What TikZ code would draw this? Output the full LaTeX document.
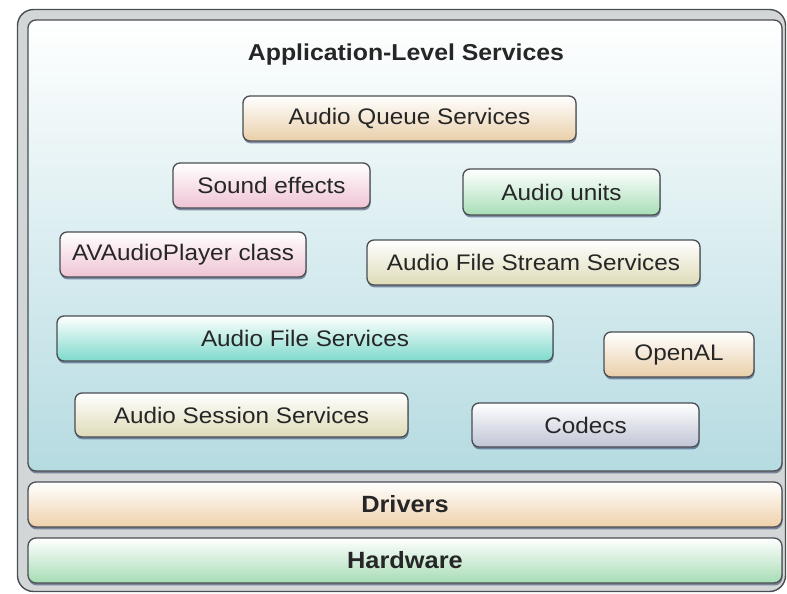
\documentclass[tikz,border=0pt]{standalone}
\usepackage{fontspec}
\setmainfont{Liberation Sans}[FakeStretch=1.08]
\usetikzlibrary{shadows}
\definecolor{edgec}{HTML}{4A4D52}
\definecolor{txtc}{HTML}{262626}
\definecolor{shadowc}{HTML}{2E3D66}
\definecolor{framec}{HTML}{D3D6D6}
\definecolor{panelbot}{HTML}{B5DBE1}
\definecolor{tanbot}{HTML}{E9CFA9}
\definecolor{pinkbot}{HTML}{EFC3D3}
\definecolor{greenbot}{HTML}{A8DEB7}
\definecolor{khakibot}{HTML}{DEDBB7}
\definecolor{tealbot}{HTML}{7ED9CC}
\definecolor{greybot}{HTML}{BFC4D5}
\definecolor{drvbot}{HTML}{EFD1AB}
\definecolor{hwbot}{HTML}{A6DCB4}
\begin{document}
\begin{tikzpicture}[x=1pt,y=-1pt,
  box/.style={draw=edgec, line width=1.3pt, rounded corners=7pt, text=txtc,
    font=\fontsize{22.5}{26}\selectfont, inner sep=0pt,
    drop shadow={shadow xshift=0.6pt, shadow yshift=-2.4pt, fill=shadowc, opacity=0.55}},
  bar/.style={draw=edgec, line width=1.3pt, rounded corners=8pt, text=txtc,
    font=\fontsize{23.5}{27}\selectfont\bfseries, inner sep=0pt,
    minimum width=754pt, minimum height=45pt,
    drop shadow={shadow xshift=0.6pt, shadow yshift=-2.4pt, fill=shadowc, opacity=0.55}},
]
\useasboundingbox (0,0) rectangle (787,594);
% outer frame
\node[draw=edgec, line width=1.4pt, rounded corners=16pt, fill=framec,
  minimum width=768pt, minimum height=582pt, inner sep=0pt] (frame) at (401.5,300.5) {};
% main panel
\node[bar, top color=white, bottom color=panelbot, minimum height=451pt] (app) at (405,245.5) {};
\node[bar, top color=white, bottom color=drvbot] (drv) at (405,504.5) {Drivers};
\node[bar, top color=white, bottom color=hwbot] (hw) at (405,560.5) {Hardware};
\node[text=txtc, font=\fontsize{23}{27}\selectfont\bfseries] (title) at (406,55) {Application-Level Services};
% service boxes
\node[box, top color=white, bottom color=tanbot, minimum width=333pt, minimum height=45pt] (aq) at (409.5,118.5) {Audio Queue Services};
\node[box, top color=white, bottom color=pinkbot, minimum width=197pt, minimum height=45pt] (se) at (271.5,185.5) {Sound effects};
\node[box, top color=white, bottom color=greenbot, minimum width=197pt, minimum height=46pt] (au) at (561.5,192) {Audio units};
\node[box, top color=white, bottom color=pinkbot, minimum width=246pt, minimum height=45pt] (av) at (183,254.5) {AVAudioPlayer class};
\node[box, top color=white, bottom color=khakibot, minimum width=333pt, minimum height=45pt] (afss) at (533.5,262.5) {Audio File Stream Services};
\node[box, top color=white, bottom color=tealbot, minimum width=496pt, minimum height=45pt] (af) at (305,338.5) {Audio File Services};
\node[box, top color=white, bottom color=tanbot, minimum width=150pt, minimum height=45pt] (oal) at (679,354.5) {OpenAL};
\node[box, top color=white, bottom color=khakibot, minimum width=333pt, minimum height=44pt] (as) at (241.5,415) {Audio Session Services};
\node[box, top color=white, bottom color=greybot, minimum width=227pt, minimum height=44pt] (cod) at (585.5,425) {Codecs};
\end{tikzpicture}
\end{document}
